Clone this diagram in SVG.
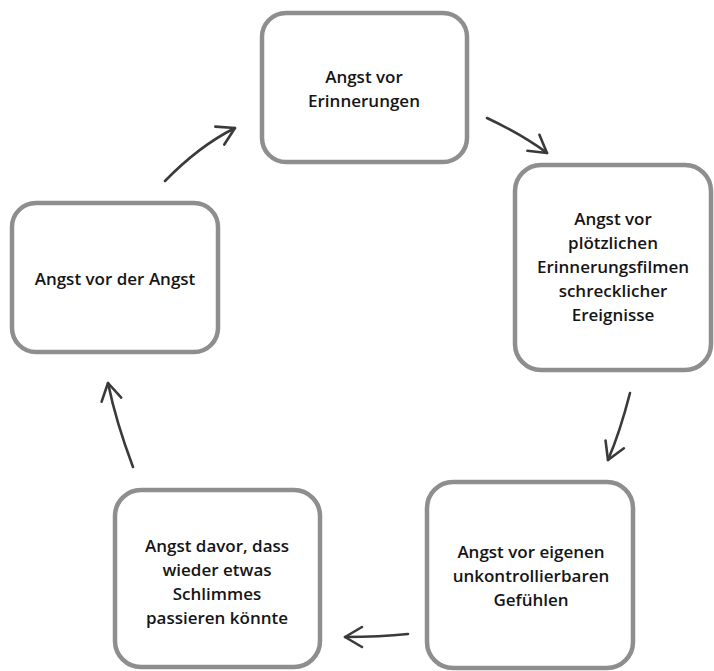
<svg xmlns="http://www.w3.org/2000/svg" width="714" height="671" viewBox="0 0 714 671">
  <style>
    .box { fill: #ffffff; stroke: #8e8e8e; stroke-width: 4.5; }
    .lbl { font-family: "Open Sans", "Noto Sans", "Liberation Sans", sans-serif; font-size: 17px; font-weight: 600; fill: #151515; text-anchor: middle; }
    .arr { fill: none; stroke: #3a3a3a; stroke-width: 2.6; stroke-linecap: round; marker-end: url(#head); }
  </style>
  <defs>
    <marker id="head" markerUnits="userSpaceOnUse" markerWidth="40" markerHeight="40" viewBox="-20 -20 40 40" refX="0" refY="0" orient="auto" overflow="visible">
      <path d="M-17,-10 L0,0 L-17,10" fill="none" stroke="#3a3a3a" stroke-width="2.6" stroke-linecap="round" stroke-linejoin="round"/>
    </marker>
  </defs>
  <rect width="714" height="671" fill="#ffffff"/>

  <g id="node-erinnerungen">
    <rect class="box" x="262" y="13" width="205" height="149" rx="24"/>
    <text class="lbl" x="364" y="83">Angst vor</text>
    <text class="lbl" x="364" y="107">Erinnerungen</text>
  </g>

  <g id="node-erinnerungsfilme">
    <rect class="box" x="515" y="165" width="196" height="205" rx="26"/>
    <text class="lbl" x="613" y="225">Angst vor</text>
    <text class="lbl" x="613" y="249">plötzlichen</text>
    <text class="lbl" x="613" y="273">Erinnerungsfilmen</text>
    <text class="lbl" x="613" y="297">schrecklicher</text>
    <text class="lbl" x="613" y="321">Ereignisse</text>
  </g>

  <g id="node-gefuehle">
    <rect class="box" x="427" y="482" width="206" height="186" rx="26"/>
    <text class="lbl" x="531" y="558">Angst vor eigenen</text>
    <text class="lbl" x="531" y="582">unkontrollierbaren</text>
    <text class="lbl" x="531" y="606">Gefühlen</text>
  </g>

  <g id="node-schlimmes">
    <rect class="box" x="115" y="490" width="205" height="177" rx="26"/>
    <text class="lbl" x="217" y="552">Angst davor, dass</text>
    <text class="lbl" x="217" y="576">wieder etwas</text>
    <text class="lbl" x="217" y="600">Schlimmes</text>
    <text class="lbl" x="217" y="624">passieren könnte</text>
  </g>

  <g id="node-angst-vor-angst">
    <rect class="box" x="12" y="203" width="206" height="149" rx="24"/>
    <text class="lbl" x="115" y="285">Angst vor der Angst</text>
  </g>

  <g id="connectors">
    <path class="arr" d="M487,118 Q523,135 547,153"/>
    <path class="arr" d="M630,393 Q620,432 608,460"/>
    <path class="arr" d="M408,634 Q380,637 345,637"/>
    <path class="arr" d="M133,467 Q116,422 108,383"/>
    <path class="arr" d="M165,181 Q199,146 235,128"/>
  </g>
</svg>
